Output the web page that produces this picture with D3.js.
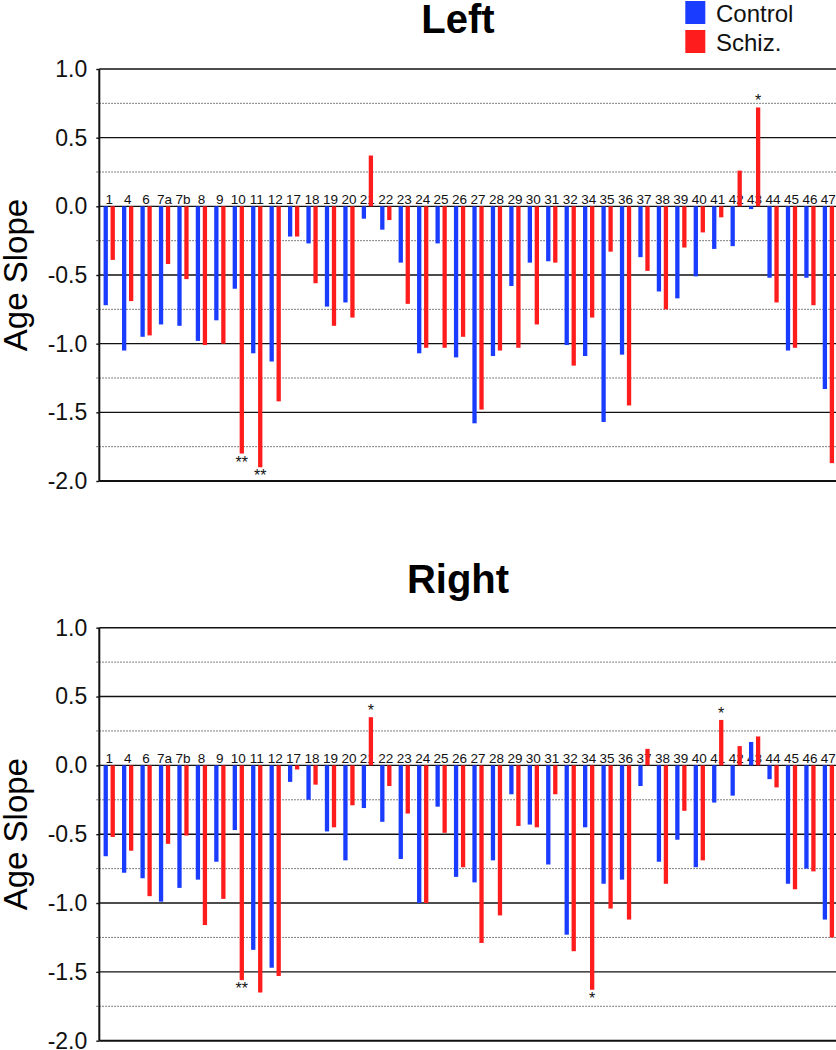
<!DOCTYPE html>
<html>
<head>
<meta charset="utf-8">
<script src="https://cdn.jsdelivr.net/npm/d3@7"></script>
<style>
  body { margin: 0; background: #fff; }
  svg { display: block; font-family: "Liberation Sans", Arial, sans-serif; }
</style>
</head>
<body>
<div class="chart"></div>
<script>
var categories = ["1","4","6","7a","7b","8","9","10","11","12","17","18","19","20","21","22","23","24","25","26",
  "27","28","29","30","31","32","34","35","36","37","38","39","40","41","42","43","44","45","46","47"];

var seriesNames = ["Control", "Schiz."];

// Left hemisphere
var leftControl = [-0.72,-1.05,-0.95,-0.86,-0.87,-0.98,-0.83,-0.60,-1.07,-1.13,-0.22,-0.27,-0.73,-0.70,-0.09,-0.17,-0.41,-1.07,-0.27,-1.10,
  -1.58,-1.09,-0.58,-0.41,-0.40,-1.01,-1.09,-1.57,-1.08,-0.37,-0.62,-0.67,-0.51,-0.31,-0.29,-0.02,-0.52,-1.05,-0.52,-1.33];
var leftSchiz = [-0.39,-0.69,-0.94,-0.42,-0.53,-1.01,-1.00,-1.80,-1.90,-1.42,-0.22,-0.56,-0.87,-0.81,0.37,-0.10,-0.71,-1.03,-1.03,-0.95,
  -1.48,-1.05,-1.03,-0.86,-0.41,-1.16,-0.81,-0.33,-1.45,-0.47,-0.75,-0.30,-0.19,-0.08,0.26,0.72,-0.70,-1.03,-0.72,-1.87];
var leftStars = [["10", "**"], ["11", "**"], ["43", "*"]];

// Right hemisphere
var rightControl = [-0.66,-0.78,-0.82,-0.99,-0.89,-0.83,-0.70,-0.47,-1.34,-1.47,-0.12,-0.25,-0.48,-0.69,-0.31,-0.41,-0.68,-1.00,-0.30,-0.81,
  -0.85,-0.69,-0.21,-0.43,-0.72,-1.23,-0.45,-0.86,-0.83,-0.15,-0.70,-0.54,-0.74,-0.27,-0.22,0.17,-0.10,-0.86,-0.75,-1.12];
var rightSchiz = [-0.52,-0.62,-0.95,-0.57,-0.51,-1.16,-0.97,-1.56,-1.65,-1.53,-0.03,-0.14,-0.45,-0.29,0.35,-0.15,-0.35,-1.00,-0.49,-0.74,
  -1.29,-1.09,-0.44,-0.45,-0.21,-1.35,-1.63,-1.04,-1.12,0.12,-0.86,-0.33,-0.69,0.33,0.14,0.21,-0.16,-0.90,-0.77,-1.25];
var rightStars = [["10", "**"], ["21", "*"], ["34", "*"], ["41", "*"]];

var majorTicks = [1.0, 0.5, 0.0, -0.5, -1.0, -1.5, -2.0];
var minorTicks = [0.75, 0.25, -0.25, -0.75, -1.25, -1.75];

var colors = ["#1a3cff", "#ff1c1c"];

var svgWidth = 836;
var svgHeight = 1050;

var svg = d3.select(".chart")
  .append("svg")
  .attr("width", svgWidth)
  .attr("height", svgHeight);

var xScale = d3.scaleBand()
  .domain(categories)
  .range([100, 837.6]);

var xSub = d3.scaleBand()
  .domain(seriesNames)
  .range([0, xScale.bandwidth()])
  .paddingInner(0.386)
  .paddingOuter(0.51);

function drawPanel(title, control, schiz, stars, yTop, yBottom, titleY) {
  var g = svg.append("g");
  var yScale = d3.scaleLinear().domain([-2, 1]).range([yBottom, yTop]);
  var xLeft = 99.3, xRight = 836;

  // title
  g.append("text")
    .attr("x", 458)
    .attr("y", titleY)
    .attr("text-anchor", "middle")
    .style("font-size", "40px")
    .style("font-weight", "bold")
    .text(title);

  // dotted minor grid
  g.selectAll(".minor")
    .data(minorTicks)
    .enter()
    .append("line")
    .attr("x1", xLeft - 3)
    .attr("x2", xRight)
    .attr("y1", d => yScale(d))
    .attr("y2", d => yScale(d))
    .attr("stroke", "#555")
    .attr("stroke-width", 1)
    .attr("stroke-dasharray", "1.5,1.5");

  // solid major grid
  g.selectAll(".major")
    .data(majorTicks)
    .enter()
    .append("line")
    .attr("x1", xLeft)
    .attr("x2", xRight)
    .attr("y1", d => yScale(d))
    .attr("y2", d => yScale(d))
    .attr("stroke", "#111")
    .attr("stroke-width", d => d === -2 ? 2 : 1.4);

  // left axis
  var leftAxis = d3.axisLeft(yScale)
    .tickValues(majorTicks)
    .tickSize(3)
    .tickPadding(9)
    .tickFormat(d => d.toFixed(1));

  var axisG = g.append("g")
    .attr("transform", `translate(${xLeft}, 0)`)
    .call(leftAxis);
  axisG.select(".domain").remove();
  axisG.selectAll(".tick line").attr("stroke", "#111").attr("stroke-width", 1.4);
  axisG.selectAll(".tick text")
    .style("font-size", "23px")
    .style("font-family", "'Liberation Sans', Arial, sans-serif")
    .attr("fill", "#111");

  g.append("line")
    .attr("x1", xLeft).attr("x2", xLeft)
    .attr("y1", yScale(1)).attr("y2", yScale(-2))
    .attr("stroke", "#111")
    .attr("stroke-width", 2);

  // y label
  g.append("text")
    .attr("transform", `translate(27, ${(yScale(1) + yScale(-2)) / 2}) rotate(-90)`)
    .attr("text-anchor", "middle")
    .style("font-size", "33px")
    .text("Age Slope");

  // category labels
  g.selectAll(".cat")
    .data(categories)
    .enter()
    .append("text")
    .attr("x", d => xScale(d) + xScale.bandwidth() / 2)
    .attr("y", yScale(0) - 2.5)
    .attr("text-anchor", "middle")
    .style("font-size", "13.5px")
    .attr("fill", "#111")
    .text(d => d);

  // bars
  [control, schiz].forEach(function(values, si) {
    g.selectAll(".bar" + si)
      .data(values)
      .enter()
      .append("rect")
      .attr("x", (d, i) => xScale(categories[i]) + xSub(seriesNames[si]))
      .attr("width", xSub.bandwidth())
      .attr("y", d => yScale(Math.max(0, d)))
      .attr("height", d => Math.abs(yScale(d) - yScale(0)))
      .attr("fill", colors[si]);
  });

  // significance stars (on schiz bars)
  g.selectAll(".star")
    .data(stars)
    .enter()
    .append("text")
    .attr("x", d => xScale(d[0]) + xSub(seriesNames[1]) + xSub.bandwidth() / 2)
    .attr("y", function(d) {
      var v = schiz[categories.indexOf(d[0])];
      return v > 0 ? yScale(v) - 1 : yScale(v) + 14;
    })
    .attr("text-anchor", "middle")
    .style("font-size", "16px")
    .attr("fill", "#111")
    .text(d => d[1]);
}

drawPanel("Left", leftControl, leftSchiz, leftStars, 69, 481, 33);
drawPanel("Right", rightControl, rightSchiz, rightStars, 627.7, 1040.7, 593);

// legend
var legend = svg.append("g");
seriesNames.forEach(function(name, i) {
  legend.append("rect")
    .attr("x", 685.3)
    .attr("y", 1 + i * 29)
    .attr("width", 20)
    .attr("height", 23)
    .attr("fill", colors[i]);
  legend.append("text")
    .attr("x", 716)
    .attr("y", 21.7 + i * 29)
    .style("font-size", "24px")
    .attr("fill", "#111")
    .text(name);
});
</script>
</body>
</html>
